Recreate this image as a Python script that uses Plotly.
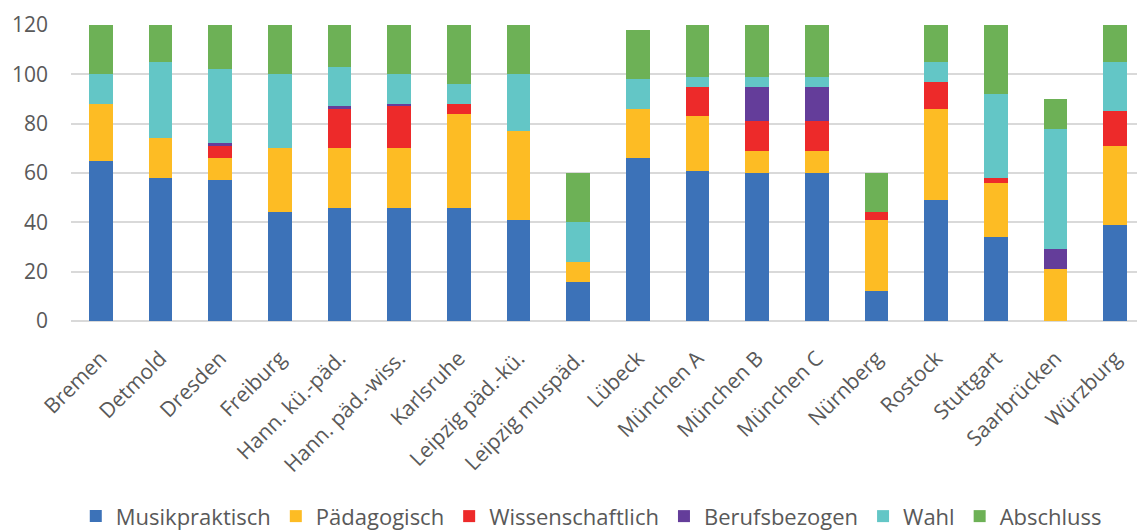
import plotly.graph_objects as go

categories = ["Bremen", "Detmold", "Dresden", "Freiburg", "Hann. kü.-päd.", "Hann. päd.-wiss.",
              "Karlsruhe", "Leipzig päd.-kü.", "Leipzig muspäd.", "Lübeck", "München A",
              "München B", "München C", "Nürnberg", "Rostock", "Stuttgart", "Saarbrücken", "Würzburg"]

musikpraktisch   = [65, 58, 57, 44, 46, 46, 46, 41, 16, 66, 61, 60, 60, 12, 49, 34, 0, 39]
paedagogisch     = [23, 16, 9, 26, 24, 24, 38, 36, 8, 20, 22, 9, 9, 29, 37, 22, 21, 32]
wissenschaftlich = [0, 0, 5, 0, 16, 17, 4, 0, 0, 0, 12, 12, 12, 3, 11, 2, 0, 14]
berufsbezogen    = [0, 0, 1, 0, 1, 1, 0, 0, 0, 0, 0, 14, 14, 0, 0, 0, 8, 0]
wahl             = [12, 31, 30, 30, 16, 12, 8, 23, 16, 12, 4, 4, 4, 0, 8, 34, 49, 20]
abschluss        = [20, 15, 18, 20, 17, 20, 24, 20, 20, 20, 21, 21, 21, 16, 15, 28, 12, 15]

series_names = ["Musikpraktisch", "Pädagogisch", "Wissenschaftlich", "Berufsbezogen", "Wahl", "Abschluss"]
series_values = [musikpraktisch, paedagogisch, wissenschaftlich, berufsbezogen, wahl, abschluss]
colors = ["#3C72B8", "#FDBC24", "#ED2A2A", "#643D9A", "#63C6C6", "#6DB156"]

y_ticks = [0, 20, 40, 60, 80, 100, 120]

FONT = "Open Sans"
TXT = "#595959"

fig = go.Figure()
for name, vals, col in zip(series_names, series_values, colors):
    fig.add_trace(go.Bar(x=categories, y=vals, name=name, marker=dict(color=col, line=dict(width=0))))

fig.update_layout(
    barmode="stack",
    bargap=0.6,
    width=1137, height=524,
    margin=dict(l=63, r=0, t=17, b=211),
    plot_bgcolor="white", paper_bgcolor="white",
    font=dict(family=FONT, color=TXT),
    legend=dict(orientation="h", x=0.513, xanchor="center", xref="container",
                y=0.07, yanchor="top", yref="container",
                font=dict(size=22, color=TXT, family=FONT), traceorder="normal",
                itemwidth=30),
    xaxis=dict(tickangle=-45, tickfont=dict(size=21, color=TXT), showgrid=False,
               ticks="", showline=False, ticklabelstandoff=20, automargin=False),
    yaxis=dict(range=[0, 120], tickvals=y_ticks, tickfont=dict(size=21, color=TXT),
               showgrid=True, gridcolor="#D9D9D9", gridwidth=1.5, zeroline=True,
               zerolinecolor="#D9D9D9", zerolinewidth=1.5, ticks="", ticklabelstandoff=22,
               automargin=False),
)

fig.write_html("out.html")
